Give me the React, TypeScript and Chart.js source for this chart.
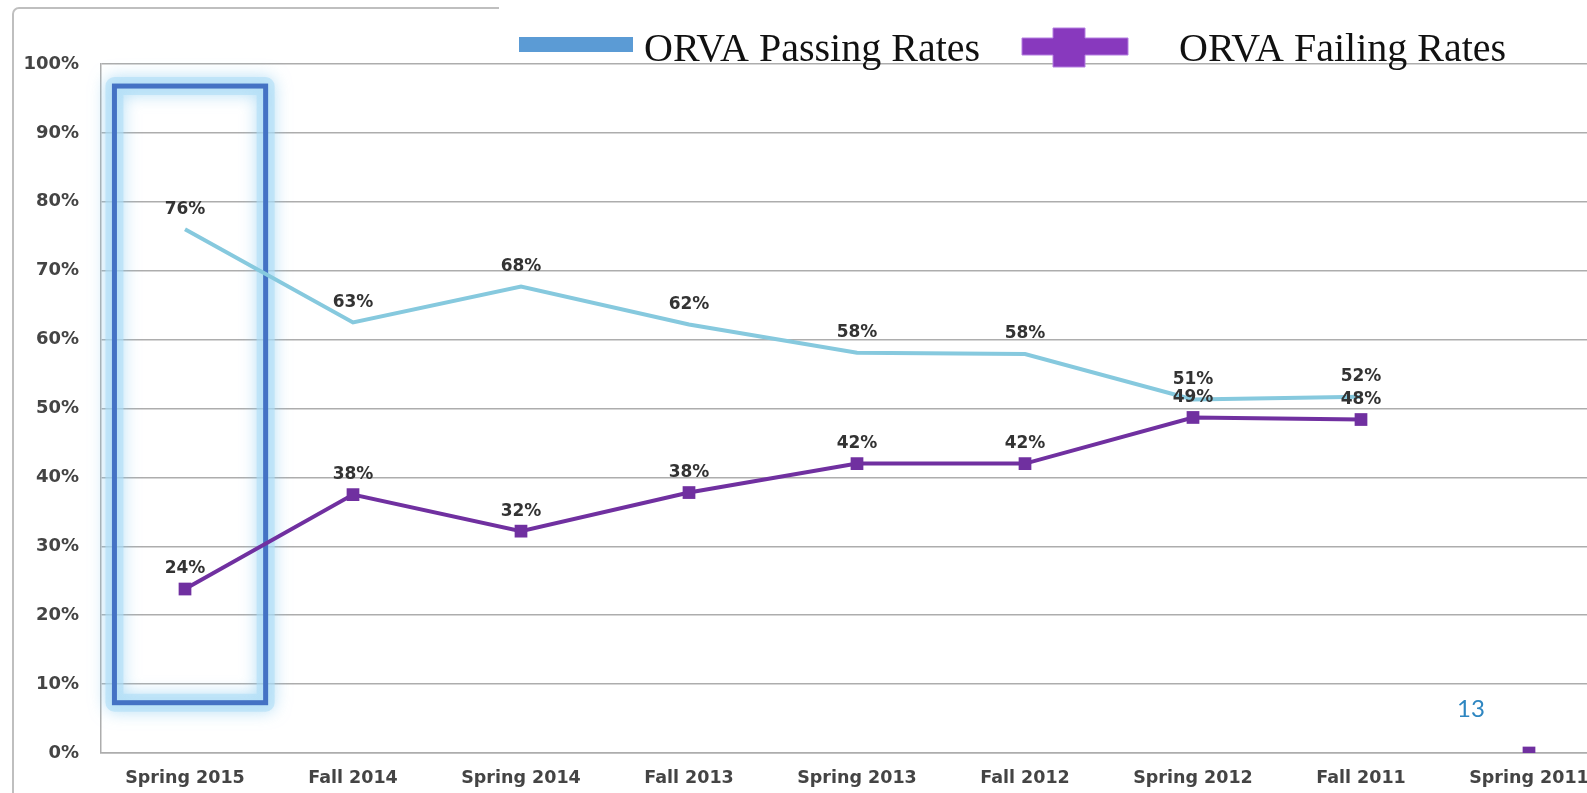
import { useEffect, useRef } from 'react';
import { Chart, registerables } from 'chart.js';

Chart.register(...registerables);

const categories = [
  'Spring 2015',
  'Fall 2014',
  'Spring 2014',
  'Fall 2013',
  'Spring 2013',
  'Fall 2012',
  'Spring 2012',
  'Fall 2011',
  'Spring 2011',
];
const passingRates: (number | null)[] = [76.0, 62.5, 67.7, 62.2, 58.1, 57.9, 51.3, 51.7, null];
const failingRates: (number | null)[] = [23.8, 37.5, 32.2, 37.8, 42.0, 42.0, 48.7, 48.4, 0];
const yTickValues = [0, 10, 20, 30, 40, 50, 60, 70, 80, 90, 100];
const passingLabel = 'ORVA Passing Rates';
const failingLabel = 'ORVA Failing Rates';
const pageNumber = '13';
const highlightedIndex = 0;
const hiddenSegmentEnd = 8;

const PASS_LINE = '#86C9DE';
const FAIL_LINE = '#7030A0';
const PASS_LEGEND = '#5B9BD5';
const FAIL_LEGEND = '#8839BE';
const GRID = '#ADADAD';
const FAMILY = '"DejaVu Sans", Verdana, sans-serif';

const W = 1640;
const H = 793;

const decorPlugin = {
  id: 'decor',
  beforeDatasetsDraw(chart: any) {
    const { ctx, scales } = chart;
    const x = scales.x;
    const y = scales.y;
    const step = x.getPixelForValue(1) - x.getPixelForValue(0);
    const cx = x.getPixelForValue(highlightedIndex);
    const left = cx - step * 0.42;
    const right = cx + step * 0.48;
    const top = y.getPixelForValue(96.8);
    const bottom = y.getPixelForValue(7.3);
    ctx.save();
    ctx.lineJoin = 'round';
    ctx.shadowColor = 'rgba(130,200,240,0.95)';
    ctx.shadowBlur = 16;
    ctx.strokeStyle = 'rgba(175,222,246,0.6)';
    ctx.lineWidth = 18;
    ctx.strokeRect(left, top, right - left, bottom - top);
    ctx.shadowBlur = 0;
    ctx.shadowColor = 'transparent';
    ctx.strokeStyle = '#4472C4';
    ctx.lineWidth = 5;
    ctx.lineJoin = 'miter';
    ctx.strokeRect(left, top, right - left, bottom - top);
    ctx.restore();
  },
  afterDatasetsDraw(chart: any) {
    const { ctx } = chart;
    ctx.save();
    ctx.font = 'bold 17px ' + FAMILY;
    ctx.fillStyle = '#333333';
    ctx.textAlign = 'center';
    ctx.textBaseline = 'middle';
    chart.data.datasets.forEach((ds: any, di: number) => {
      const meta = chart.getDatasetMeta(di);
      meta.data.forEach((pt: any, i: number) => {
        const v = ds.data[i];
        if (v === null || v === undefined || v === 0) return;
        ctx.fillText(Math.round(v) + '%', pt.x, pt.y - 20);
      });
    });
    ctx.restore();
  },
  afterDraw(chart: any) {
    const { ctx } = chart;
    ctx.save();
    // outer frame
    ctx.strokeStyle = '#BFBFBF';
    ctx.lineWidth = 2;
    ctx.beginPath();
    ctx.moveTo(13, H + 2);
    ctx.lineTo(13, 14);
    ctx.arcTo(13, 8, 19, 8, 6);
    ctx.lineTo(499, 8);
    ctx.stroke();

    // legend box
    ctx.fillStyle = '#FFFFFF';
    ctx.fillRect(499, 0, 1029, 61);

    ctx.fillStyle = PASS_LEGEND;
    ctx.fillRect(519, 37, 114, 15);

    ctx.fillStyle = FAIL_LEGEND;
    ctx.strokeStyle = '#B47FE0';
    ctx.lineWidth = 1;
    ctx.beginPath();
    ctx.moveTo(1053, 28);
    ctx.lineTo(1085, 28);
    ctx.lineTo(1085, 38);
    ctx.lineTo(1128, 38);
    ctx.lineTo(1128, 55);
    ctx.lineTo(1085, 55);
    ctx.lineTo(1085, 67);
    ctx.lineTo(1053, 67);
    ctx.lineTo(1053, 55);
    ctx.lineTo(1022, 55);
    ctx.lineTo(1022, 38);
    ctx.lineTo(1053, 38);
    ctx.closePath();
    ctx.fill();
    ctx.stroke();

    ctx.fillStyle = '#111111';
    ctx.font = '40px "Liberation Serif", "Times New Roman", serif';
    ctx.textAlign = 'left';
    ctx.textBaseline = 'alphabetic';
    ctx.fillText(passingLabel, 644, 61);
    ctx.fillText(failingLabel, 1179, 61);

    // page number
    ctx.fillStyle = '#2E86C1';
    ctx.font = '24px Lato, "Open Sans", sans-serif';
    ctx.fillText(pageNumber, 1457, 717);
    ctx.restore();
  },
};

export default function App() {
  const canvasRef = useRef<HTMLCanvasElement | null>(null);

  useEffect(() => {
    if (!canvasRef.current) return;
    const chart = new Chart(canvasRef.current, {
      type: 'line',
      data: {
        labels: categories,
        datasets: [
          {
            label: passingLabel,
            data: passingRates,
            borderColor: PASS_LINE,
            backgroundColor: PASS_LINE,
            borderWidth: 4,
            pointRadius: 0,
            tension: 0,
            spanGaps: false,
          },
          {
            label: failingLabel,
            data: failingRates,
            borderColor: FAIL_LINE,
            backgroundColor: FAIL_LINE,
            borderWidth: 4,
            pointStyle: 'rect',
            pointRadius: 9,
            pointBorderWidth: 0,
            pointBackgroundColor: FAIL_LINE,
            tension: 0,
            segment: {
              borderColor: (c: any) => (c.p1DataIndex === hiddenSegmentEnd ? 'rgba(0,0,0,0)' : undefined),
            },
          },
        ],
      },
      options: {
        responsive: false,
        animation: false,
        devicePixelRatio: 1,
        layout: { padding: { left: 0, right: W - 1613, top: 64, bottom: 0 } },
        plugins: {
          legend: { display: false },
          tooltip: { enabled: false },
        },
        scales: {
          x: {
            type: 'category',
            offset: true,
            grid: { display: false, drawTicks: false },
            border: { display: true, color: GRID, width: 1.5 },
            ticks: {
              autoSkip: false,
              maxRotation: 0,
              minRotation: 0,
              padding: 15,
              color: '#444444',
              font: { family: FAMILY, size: 17.5, weight: 'bold' },
            },
            afterFit: (s: any) => {
              s.height = 40;
            },
          },
          y: {
            min: 0,
            max: 100,
            afterBuildTicks: (s: any) => {
              s.ticks = yTickValues.map((v) => ({ value: v }));
            },
            grid: { color: GRID, lineWidth: 1.5, drawTicks: false },
            border: { display: true, color: GRID, width: 1.5 },
            ticks: {
              padding: 22,
              color: '#444444',
              font: { family: FAMILY, size: 18, weight: 'bold' },
              callback: (v: any) => v + '%',
            },
            afterFit: (s: any) => {
              s.width = 101;
            },
          },
        },
      },
      plugins: [decorPlugin],
    });
    return () => chart.destroy();
  }, []);

  return (
    <div
      style={{
        position: 'fixed',
        left: 0,
        top: 0,
        width: 1587,
        height: H,
        overflow: 'hidden',
        background: '#FFFFFF',
      }}
    >
      <canvas ref={canvasRef} width={W} height={H} style={{ width: W, height: H, display: 'block' }} />
    </div>
  );
}
